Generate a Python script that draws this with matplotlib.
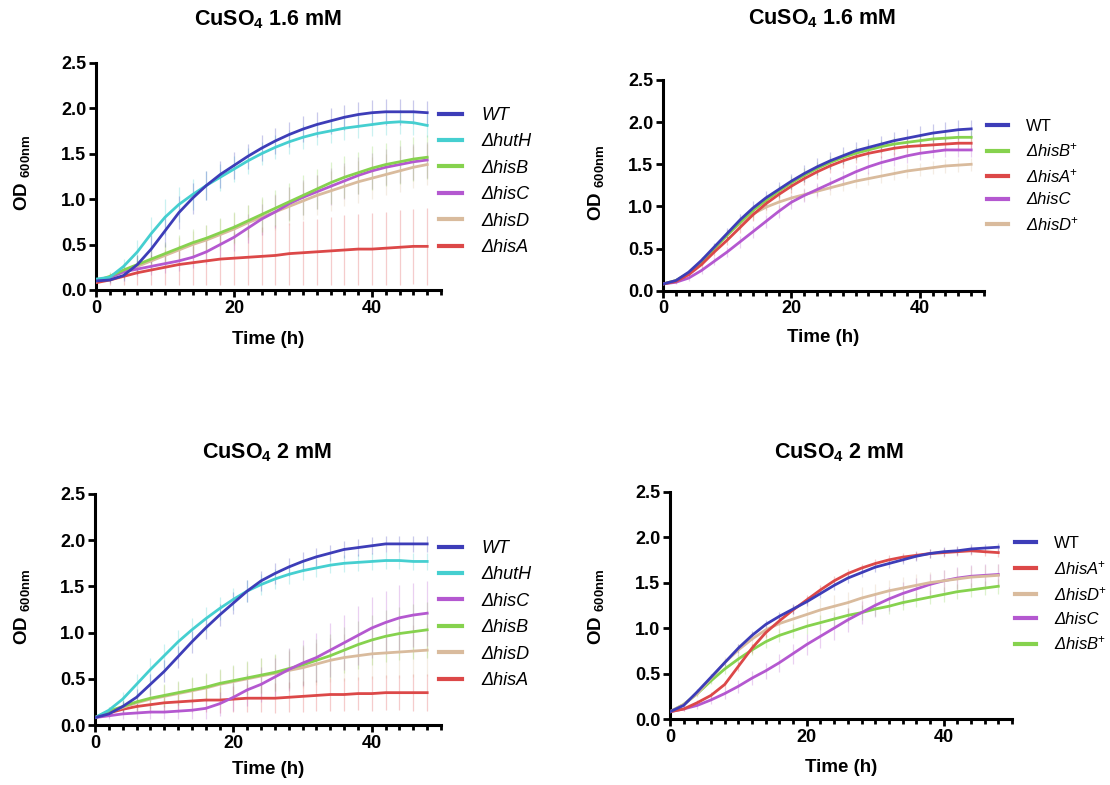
import matplotlib
matplotlib.use("Agg")
import matplotlib.pyplot as plt
import numpy as np
from matplotlib.ticker import MultipleLocator

plt.rcParams['font.family'] = ['Liberation Sans', 'DejaVu Sans']
plt.rcParams['mathtext.fontset'] = 'custom'
plt.rcParams['mathtext.rm'] = 'Liberation Sans'
plt.rcParams['mathtext.it'] = 'Liberation Sans:italic'
plt.rcParams['mathtext.bf'] = 'Liberation Sans:bold'

time_h = [0, 2, 4, 6, 8, 10, 12, 14, 16, 18, 20, 22, 24, 26, 28, 30, 32, 34, 36, 38, 40, 42, 44, 46, 48]

# ---- Panel A: CuSO4 1.6 mM, deletion mutants ----
a_labels = ["WT", "ΔhutH", "ΔhisB", "ΔhisC", "ΔhisD", "ΔhisA"]
a_wt = [0.10,0.11,0.16,0.28,0.45,0.65,0.85,1.01,1.15,1.27,1.37,1.47,1.56,1.64,1.71,1.77,1.82,1.86,1.90,1.93,1.95,1.96,1.96,1.96,1.95]
a_hutH = [0.12,0.14,0.26,0.42,0.62,0.80,0.94,1.05,1.15,1.24,1.33,1.42,1.50,1.57,1.63,1.68,1.72,1.75,1.78,1.80,1.82,1.84,1.85,1.84,1.81]
a_hisB = [0.10,0.15,0.22,0.28,0.34,0.40,0.46,0.52,0.57,0.63,0.69,0.76,0.83,0.90,0.97,1.04,1.11,1.18,1.24,1.29,1.34,1.38,1.41,1.44,1.46]
a_hisC = [0.10,0.14,0.20,0.23,0.26,0.29,0.32,0.36,0.42,0.50,0.58,0.68,0.78,0.86,0.95,1.02,1.08,1.14,1.20,1.26,1.31,1.35,1.38,1.41,1.43]
a_hisD = [0.10,0.14,0.20,0.26,0.32,0.38,0.44,0.50,0.55,0.61,0.67,0.74,0.80,0.86,0.92,0.98,1.04,1.09,1.14,1.19,1.23,1.27,1.31,1.35,1.38]
a_hisA = [0.08,0.11,0.15,0.19,0.22,0.25,0.28,0.30,0.32,0.34,0.35,0.36,0.37,0.38,0.40,0.41,0.42,0.43,0.44,0.45,0.45,0.46,0.47,0.48,0.48]
a_wt_sd = [0.02,0.03,0.06,0.10,0.15,0.18,0.18,0.17,0.16,0.15,0.15,0.14,0.14,0.14,0.14,0.14,0.14,0.14,0.14,0.14,0.14,0.14,0.14,0.13,0.13]
a_hutH_sd = [0.02,0.04,0.08,0.13,0.18,0.20,0.19,0.17,0.16,0.15,0.14,0.14,0.13,0.13,0.13,0.13,0.13,0.13,0.13,0.13,0.13,0.13,0.13,0.13,0.13]
a_hisB_sd = [0.02,0.05,0.08,0.10,0.12,0.13,0.14,0.15,0.15,0.16,0.17,0.18,0.19,0.20,0.21,0.22,0.22,0.23,0.23,0.23,0.24,0.24,0.24,0.24,0.24]
a_hisC_sd = [0.02,0.04,0.06,0.08,0.09,0.10,0.11,0.12,0.13,0.14,0.15,0.16,0.17,0.18,0.18,0.19,0.19,0.20,0.20,0.20,0.20,0.20,0.20,0.20,0.20]
a_hisD_sd = [0.02,0.05,0.08,0.10,0.12,0.13,0.14,0.15,0.16,0.17,0.18,0.19,0.20,0.20,0.21,0.21,0.22,0.22,0.22,0.23,0.23,0.23,0.23,0.23,0.23]
a_hisA_sd = [0.02,0.05,0.09,0.13,0.16,0.19,0.22,0.24,0.26,0.28,0.29,0.31,0.32,0.33,0.34,0.35,0.36,0.37,0.38,0.39,0.40,0.40,0.41,0.41,0.42]

# ---- Panel B: CuSO4 1.6 mM, complemented strains ----
b_labels = ["WT", "ΔhisB$^{+}$", "ΔhisA$^{+}$", "ΔhisC", "ΔhisD$^{+}$"]
b_wt = [0.08,0.12,0.22,0.36,0.52,0.68,0.84,0.98,1.10,1.20,1.30,1.39,1.47,1.54,1.60,1.66,1.70,1.74,1.78,1.81,1.84,1.87,1.89,1.91,1.92]
b_hisB = [0.08,0.12,0.21,0.34,0.50,0.66,0.81,0.95,1.07,1.18,1.28,1.37,1.45,1.52,1.58,1.63,1.67,1.71,1.74,1.76,1.78,1.80,1.81,1.82,1.82]
b_hisA = [0.08,0.11,0.19,0.31,0.46,0.60,0.75,0.90,1.03,1.14,1.24,1.33,1.41,1.48,1.54,1.59,1.63,1.66,1.69,1.71,1.72,1.73,1.74,1.75,1.75]
b_hisC = [0.08,0.10,0.15,0.24,0.35,0.46,0.58,0.70,0.82,0.94,1.05,1.13,1.20,1.27,1.34,1.41,1.47,1.52,1.56,1.60,1.63,1.65,1.67,1.67,1.67]
b_hisD = [0.08,0.12,0.20,0.34,0.50,0.66,0.80,0.91,0.99,1.05,1.10,1.14,1.18,1.22,1.26,1.30,1.33,1.36,1.39,1.42,1.44,1.46,1.48,1.49,1.50]
b_wt_sd = [0.01,0.02,0.03,0.04,0.05,0.06,0.07,0.08,0.08,0.09,0.09,0.10,0.10,0.10,0.10,0.10,0.10,0.10,0.10,0.11,0.11,0.11,0.11,0.11,0.11]
b_hisB_sd = [0.01,0.02,0.03,0.04,0.05,0.06,0.06,0.07,0.07,0.08,0.08,0.08,0.08,0.08,0.08,0.08,0.08,0.08,0.08,0.08,0.08,0.08,0.08,0.08,0.08]
b_hisA_sd = [0.01,0.02,0.03,0.04,0.05,0.06,0.06,0.07,0.07,0.08,0.08,0.08,0.08,0.08,0.08,0.08,0.08,0.08,0.08,0.08,0.08,0.08,0.08,0.08,0.08]
b_hisC_sd = [0.01,0.02,0.03,0.04,0.05,0.06,0.07,0.07,0.08,0.08,0.08,0.08,0.08,0.08,0.08,0.08,0.08,0.08,0.08,0.08,0.08,0.08,0.08,0.08,0.08]
b_hisD_sd = [0.01,0.02,0.03,0.04,0.05,0.06,0.07,0.07,0.08,0.08,0.08,0.08,0.08,0.08,0.08,0.08,0.08,0.08,0.08,0.08,0.08,0.08,0.08,0.08,0.08]

# ---- Panel C: CuSO4 2 mM, deletion mutants ----
c_labels = ["WT", "ΔhutH", "ΔhisC", "ΔhisB", "ΔhisD", "ΔhisA"]
c_wt = [0.08,0.12,0.20,0.30,0.44,0.58,0.74,0.90,1.05,1.19,1.32,1.45,1.56,1.64,1.71,1.77,1.82,1.86,1.90,1.92,1.94,1.96,1.96,1.96,1.96]
c_hutH = [0.08,0.16,0.28,0.44,0.60,0.75,0.90,1.03,1.15,1.26,1.36,1.45,1.52,1.58,1.63,1.67,1.70,1.73,1.75,1.76,1.77,1.78,1.78,1.77,1.77]
c_hisC = [0.08,0.10,0.12,0.13,0.14,0.14,0.15,0.16,0.18,0.23,0.30,0.38,0.44,0.52,0.60,0.67,0.73,0.81,0.89,0.97,1.05,1.11,1.16,1.19,1.21]
c_hisB = [0.08,0.15,0.20,0.25,0.29,0.32,0.35,0.38,0.41,0.45,0.48,0.51,0.54,0.57,0.61,0.65,0.70,0.75,0.81,0.87,0.92,0.96,0.99,1.01,1.03]
c_hisD = [0.08,0.14,0.19,0.24,0.28,0.31,0.34,0.37,0.40,0.44,0.47,0.50,0.53,0.56,0.59,0.62,0.66,0.70,0.73,0.75,0.77,0.78,0.79,0.80,0.81]
c_hisA = [0.08,0.13,0.17,0.20,0.22,0.24,0.25,0.26,0.27,0.27,0.28,0.29,0.29,0.29,0.30,0.31,0.32,0.33,0.33,0.34,0.34,0.35,0.35,0.35,0.35]
c_wt_sd = [0.01,0.03,0.06,0.09,0.11,0.12,0.12,0.12,0.12,0.12,0.12,0.12,0.11,0.11,0.10,0.10,0.10,0.09,0.09,0.09,0.09,0.09,0.09,0.09,0.09]
c_hutH_sd = [0.01,0.04,0.08,0.11,0.13,0.13,0.13,0.13,0.13,0.12,0.12,0.12,0.11,0.11,0.10,0.10,0.10,0.09,0.09,0.09,0.09,0.09,0.09,0.09,0.09]
c_hisC_sd = [0.01,0.03,0.05,0.06,0.07,0.08,0.09,0.10,0.11,0.13,0.15,0.17,0.19,0.21,0.23,0.25,0.27,0.29,0.30,0.32,0.33,0.34,0.35,0.35,0.35]
c_hisB_sd = [0.01,0.04,0.07,0.09,0.11,0.12,0.13,0.14,0.15,0.16,0.17,0.18,0.19,0.20,0.21,0.22,0.23,0.24,0.25,0.26,0.27,0.28,0.29,0.30,0.30]
c_hisD_sd = [0.01,0.04,0.07,0.09,0.11,0.12,0.13,0.14,0.15,0.16,0.17,0.18,0.19,0.20,0.21,0.22,0.23,0.24,0.25,0.26,0.27,0.27,0.28,0.28,0.28]
c_hisA_sd = [0.01,0.03,0.05,0.07,0.09,0.10,0.11,0.12,0.13,0.14,0.14,0.15,0.15,0.16,0.16,0.17,0.17,0.18,0.18,0.18,0.19,0.19,0.19,0.20,0.20]

# ---- Panel D: CuSO4 2 mM, complemented strains ----
d_labels = ["WT", "ΔhisA$^{+}$", "ΔhisD$^{+}$", "ΔhisC", "ΔhisB$^{+}$"]
d_wt = [0.08,0.15,0.30,0.46,0.62,0.78,0.92,1.04,1.13,1.21,1.29,1.38,1.47,1.55,1.61,1.67,1.71,1.75,1.79,1.82,1.84,1.85,1.87,1.88,1.89]
d_hisA = [0.08,0.11,0.18,0.26,0.38,0.58,0.78,0.95,1.08,1.20,1.31,1.42,1.52,1.60,1.66,1.71,1.75,1.78,1.80,1.82,1.83,1.84,1.85,1.84,1.83]
d_hisD = [0.08,0.16,0.28,0.45,0.62,0.76,0.88,0.98,1.05,1.10,1.15,1.20,1.24,1.28,1.33,1.37,1.41,1.44,1.47,1.50,1.52,1.54,1.56,1.57,1.58]
d_hisC = [0.08,0.11,0.15,0.21,0.28,0.36,0.45,0.53,0.62,0.72,0.82,0.91,1.00,1.09,1.17,1.25,1.32,1.38,1.43,1.48,1.52,1.55,1.57,1.58,1.59]
d_hisB = [0.08,0.16,0.28,0.42,0.55,0.66,0.76,0.85,0.92,0.97,1.02,1.06,1.10,1.14,1.17,1.21,1.24,1.28,1.31,1.34,1.37,1.40,1.42,1.44,1.46]
d_wt_sd = [0.01,0.02,0.03,0.04,0.04,0.05,0.05,0.05,0.05,0.05,0.05,0.05,0.05,0.05,0.05,0.05,0.05,0.05,0.05,0.05,0.05,0.05,0.05,0.05,0.05]
d_hisA_sd = [0.01,0.02,0.03,0.04,0.04,0.05,0.05,0.05,0.05,0.05,0.05,0.05,0.05,0.05,0.05,0.05,0.05,0.05,0.05,0.05,0.05,0.05,0.05,0.05,0.05]
d_hisD_sd = [0.01,0.02,0.04,0.05,0.06,0.07,0.08,0.09,0.10,0.11,0.12,0.12,0.12,0.12,0.12,0.12,0.12,0.12,0.12,0.12,0.12,0.12,0.12,0.12,0.12]
d_hisC_sd = [0.01,0.02,0.04,0.05,0.06,0.07,0.08,0.09,0.10,0.11,0.12,0.13,0.13,0.13,0.13,0.13,0.13,0.13,0.12,0.12,0.12,0.12,0.12,0.12,0.12]
d_hisB_sd = [0.01,0.02,0.03,0.04,0.05,0.06,0.06,0.07,0.07,0.08,0.08,0.08,0.08,0.08,0.08,0.08,0.08,0.08,0.08,0.08,0.08,0.08,0.08,0.08,0.08]

titles = ["CuSO$_{\\mathbf{4}}$ 1.6 mM", "CuSO$_{\\mathbf{4}}$ 1.6 mM",
          "CuSO$_{\\mathbf{4}}$ 2 mM", "CuSO$_{\\mathbf{4}}$ 2 mM"]

C_WT = "#3d3db8"
C_HUTH = "#45cfd0"
C_B = "#86d24e"
C_C = "#b458d0"
C_D = "#d9bb9d"
C_A = "#dc4848"

W, H = 1110, 785
fig = plt.figure(figsize=(W / 100, H / 100), dpi=100)


def fx(px):
    return px / W


def fy(py):
    return 1 - py / H


def make_axes(left, right, top, bottom):
    ax = fig.add_axes([fx(left), fy(bottom), fx(right - left), (bottom - top) / H])
    ax.set_xlim(0, 50)
    ax.set_ylim(0, 2.5)
    for s in ["top", "right"]:
        ax.spines[s].set_visible(False)
    for s in ["left", "bottom"]:
        ax.spines[s].set_linewidth(2.2)
    ax.xaxis.set_major_locator(MultipleLocator(20))
    ax.xaxis.set_minor_locator(MultipleLocator(2))
    ax.yaxis.set_major_locator(MultipleLocator(0.5))
    ax.yaxis.set_major_formatter(matplotlib.ticker.FormatStrFormatter("%.1f"))
    ax.tick_params(which="major", direction="out", length=5, width=2.0, labelsize=13, pad=2)
    ax.tick_params(which="minor", direction="out", length=3.5, width=2.0)
    for lab in ax.get_xticklabels() + ax.get_yticklabels():
        lab.set_fontweight("bold")
    return ax


def draw(ax, series, labels, colors, order, legend_xy, fontsize, spacing):
    for i in order:
        m, sd = series[i]
        ax.errorbar(time_h, m, yerr=sd, fmt="none", ecolor=colors[i], alpha=0.28,
                    elinewidth=0.9, capsize=0, zorder=1)
    handles = {}
    for i in order:
        m, sd = series[i]
        ln, = ax.plot(time_h, m, color=colors[i], lw=2.0, zorder=3, label=labels[i])
        handles[i] = ln
    hs = [handles[i] for i in range(len(labels))]
    leg = ax.legend(hs, labels, loc="upper left", bbox_to_anchor=(fx(legend_xy[0]), fy(legend_xy[1])),
                    bbox_transform=fig.transFigure, frameon=False, borderpad=0, borderaxespad=0,
                    handlelength=1.25, handletextpad=1.1, labelspacing=spacing,
                    prop={"size": fontsize, "style": "italic"})
    for h in leg.get_lines():
        h.set_linewidth(3.0)
    return leg


# Panel A
axA = make_axes(96, 441, 62.7, 290)
serA = [(a_wt, a_wt_sd), (a_hutH, a_hutH_sd), (a_hisB, a_hisB_sd), (a_hisC, a_hisC_sd), (a_hisD, a_hisD_sd), (a_hisA, a_hisA_sd)]
colA = [C_WT, C_HUTH, C_B, C_C, C_D, C_A]
draw(axA, serA, a_labels, colA, [5, 4, 3, 2, 1, 0], (439, 107), 13, 0.52)

# Panel B
axB = make_axes(663, 984, 80, 290.7)
serB = [(b_wt, b_wt_sd), (b_hisB, b_hisB_sd), (b_hisA, b_hisA_sd), (b_hisC, b_hisC_sd), (b_hisD, b_hisD_sd)]
colB = [C_WT, C_B, C_A, C_C, C_D]
legB = draw(axB, serB, b_labels, colB, [4, 3, 1, 2, 0], (987, 119), 12, 0.45)
legB.get_texts()[0].set_fontstyle("normal")

# Panel C
axC = make_axes(95, 441, 494, 725)
serC = [(c_wt, c_wt_sd), (c_hutH, c_hutH_sd), (c_hisC, c_hisC_sd), (c_hisB, c_hisB_sd), (c_hisD, c_hisD_sd), (c_hisA, c_hisA_sd)]
colC = [C_WT, C_HUTH, C_C, C_B, C_D, C_A]
draw(axC, serC, c_labels, colC, [5, 4, 3, 2, 1, 0], (439, 540), 13, 0.52)

# Panel D
axD = make_axes(670, 1012, 491.7, 719)
serD = [(d_wt, d_wt_sd), (d_hisA, d_hisA_sd), (d_hisD, d_hisD_sd), (d_hisC, d_hisC_sd), (d_hisB, d_hisB_sd)]
colD = [C_WT, C_A, C_D, C_C, C_B]
legD = draw(axD, serD, d_labels, colD, [4, 3, 2, 1, 0], (1015, 536), 12, 0.49)
legD.get_texts()[0].set_fontstyle("normal")

# Titles, axis labels
title_pos = [(268, 20), (822, 19), (267, 453), (839, 453)]
for (x, y), t in zip(title_pos, titles):
    fig.text(fx(x), fy(y), t, ha="center", va="center", fontsize=15.5, fontweight="bold")

ylab_pos = [(22, 173), (596, 183), (22, 607), (596, 607)]
for x, y in ylab_pos:
    fig.text(fx(x), fy(y), "OD $_{\\mathbf{600nm}}$", ha="center", va="center", rotation=90,
             fontsize=13.5, fontweight="bold")

xlab_pos = [(268, 340), (823, 338), (268, 770), (841, 768)]
for x, y in xlab_pos:
    fig.text(fx(x), fy(y), "Time (h)", ha="center", va="center", fontsize=13.5, fontweight="bold")

fig.savefig("out.png", dpi=100)
